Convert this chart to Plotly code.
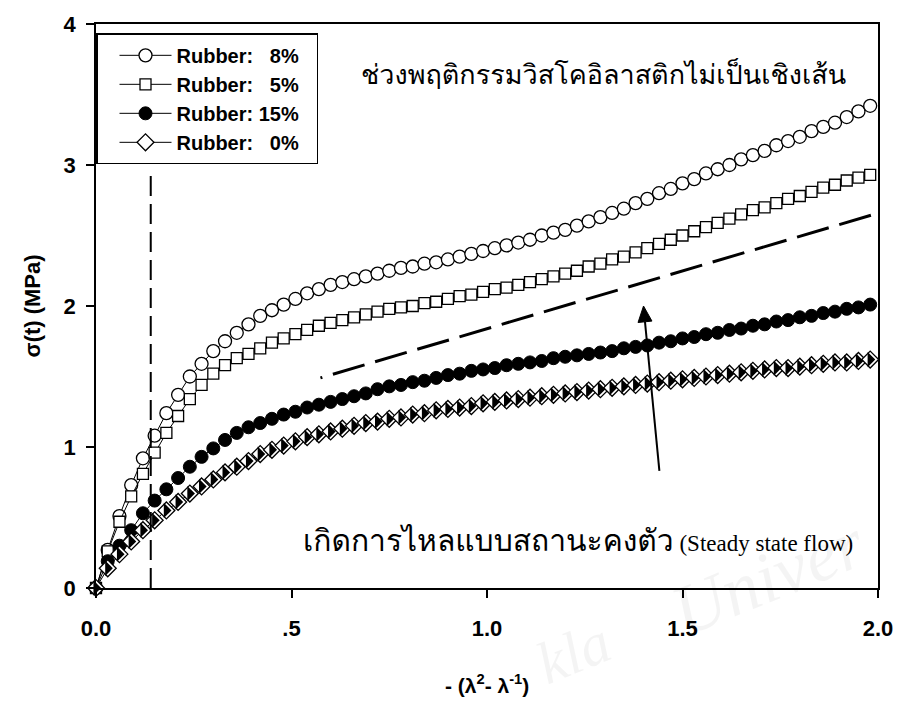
import plotly.graph_objects as go

# ---- data ----
strain = [0.00, 0.03, 0.06, 0.09, 0.12, 0.15, 0.18, 0.21, 0.24, 0.27, 0.30, 0.33, 0.36, 0.39,
          0.42, 0.45, 0.48, 0.51, 0.54, 0.57, 0.60, 0.63, 0.66, 0.69, 0.72, 0.75, 0.78, 0.81,
          0.84, 0.87, 0.90, 0.93, 0.96, 0.99, 1.02, 1.05, 1.08, 1.11, 1.14, 1.17, 1.20, 1.23,
          1.26, 1.29, 1.32, 1.35, 1.38, 1.41, 1.44, 1.47, 1.50, 1.53, 1.56, 1.59, 1.62, 1.65,
          1.68, 1.71, 1.74, 1.77, 1.80, 1.83, 1.86, 1.89, 1.92, 1.95, 1.98]

rubber_8 = [0, 0.27, 0.51, 0.73, 0.92, 1.08, 1.24, 1.37, 1.50, 1.59, 1.68, 1.75, 1.81, 1.87,
            1.93, 1.97, 2.01, 2.05, 2.09, 2.12, 2.15, 2.17, 2.19, 2.21, 2.23, 2.25, 2.27, 2.28,
            2.30, 2.31, 2.33, 2.35, 2.37, 2.39, 2.41, 2.43, 2.45, 2.47, 2.50, 2.52, 2.54, 2.57,
            2.60, 2.63, 2.66, 2.69, 2.73, 2.76, 2.80, 2.83, 2.87, 2.90, 2.94, 2.97, 3.00, 3.04,
            3.07, 3.10, 3.14, 3.17, 3.20, 3.24, 3.27, 3.30, 3.34, 3.38, 3.42]

rubber_5 = [0, 0.26, 0.47, 0.65, 0.81, 0.96, 1.10, 1.22, 1.34, 1.44, 1.52, 1.58, 1.63, 1.66,
            1.70, 1.74, 1.77, 1.80, 1.83, 1.86, 1.88, 1.90, 1.92, 1.94, 1.96, 1.98, 1.99, 2.00,
            2.02, 2.03, 2.05, 2.07, 2.08, 2.10, 2.12, 2.13, 2.15, 2.17, 2.19, 2.21, 2.23, 2.25,
            2.28, 2.30, 2.33, 2.35, 2.38, 2.41, 2.44, 2.47, 2.50, 2.53, 2.56, 2.59, 2.62, 2.65,
            2.68, 2.70, 2.73, 2.76, 2.78, 2.81, 2.84, 2.86, 2.89, 2.91, 2.93]

rubber_15 = [0, 0.19, 0.30, 0.41, 0.53, 0.62, 0.70, 0.78, 0.86, 0.93, 0.99, 1.05, 1.10, 1.14,
             1.17, 1.20, 1.23, 1.25, 1.28, 1.30, 1.32, 1.34, 1.36, 1.38, 1.41, 1.43, 1.44, 1.46,
             1.47, 1.49, 1.51, 1.52, 1.54, 1.55, 1.56, 1.58, 1.59, 1.60, 1.61, 1.63, 1.64, 1.65,
             1.66, 1.67, 1.68, 1.70, 1.71, 1.72, 1.74, 1.75, 1.77, 1.78, 1.80, 1.81, 1.83, 1.84,
             1.86, 1.87, 1.89, 1.90, 1.92, 1.93, 1.95, 1.96, 1.98, 1.99, 2.01]

rubber_0 = [0, 0.14, 0.24, 0.33, 0.41, 0.48, 0.55, 0.61, 0.67, 0.72, 0.77, 0.82, 0.86, 0.90,
            0.95, 0.98, 1.01, 1.04, 1.07, 1.09, 1.11, 1.13, 1.15, 1.17, 1.18, 1.20, 1.21, 1.23,
            1.24, 1.26, 1.27, 1.28, 1.29, 1.31, 1.32, 1.33, 1.34, 1.35, 1.36, 1.37, 1.38, 1.39,
            1.40, 1.41, 1.42, 1.43, 1.44, 1.45, 1.46, 1.47, 1.48, 1.49, 1.50, 1.51, 1.52, 1.53,
            1.54, 1.55, 1.56, 1.56, 1.57, 1.58, 1.59, 1.60, 1.60, 1.61, 1.62]

x_tick_vals = [0, 0.5, 1.0, 1.5, 2.0]
x_tick_text = ["0.0", ".5", "1.0", "1.5", "2.0"]
y_tick_vals = [0, 1, 2, 3, 4]
y_tick_text = ["0", "1", "2", "3", "4"]

pad = "<span style='color:rgba(0,0,0,0)'>_</span>"
labels = ["Rubber: \u20078%" + pad, "Rubber: \u20075%" + pad,
          "Rubber: 15%" + pad, "Rubber: \u20070%" + pad]

SANS = "Arial, Liberation Sans, sans-serif"
THAI = "Norasi, Kinnari, Garuda, Loma"
SERIF = "Times New Roman, Liberation Serif, serif"

fig = go.Figure()

common = dict(mode="lines+markers", line=dict(color="black", width=1), cliponaxis=False)

fig.add_trace(go.Scatter(x=strain, y=rubber_8, name=labels[0], legendgroup="a",
                         marker=dict(symbol="circle", size=13, color="white",
                                     line=dict(color="black", width=1.3)), **common))
fig.add_trace(go.Scatter(x=strain, y=rubber_5, name=labels[1], legendgroup="b",
                         marker=dict(symbol="square", size=11, color="white",
                                     line=dict(color="black", width=1.3)), **common))
fig.add_trace(go.Scatter(x=strain, y=rubber_15, name=labels[2], legendgroup="c",
                         marker=dict(symbol="circle", size=13, color="black",
                                     line=dict(color="black", width=1)), **common))
fig.add_trace(go.Scatter(x=strain, y=rubber_0, name=labels[3], legendgroup="d",
                         marker=dict(symbol="diamond", size=13, color="white",
                                     line=dict(color="black", width=1.3)), **common))
# right black half of the half-filled diamond
fig.add_trace(go.Scatter(x=strain, y=rubber_0, mode="markers", legendgroup="d", showlegend=False,
                         cliponaxis=False, hoverinfo="skip",
                         marker=dict(symbol="triangle-ne", angle=45, size=12, color="black",
                                     line=dict(width=0))))

# ---- reference lines / arrow ----
shapes = [
    dict(type="line", xref="x", yref="y", x0=0.14, x1=0.14, y0=0, y1=2.93,
         line=dict(color="black", width=2, dash="20px,8px")),
    dict(type="line", xref="x", yref="y", x0=0.574, y0=1.49, x1=1.99, y1=2.65,
         line=dict(color="black", width=3, dash="2px,11px" + ",33px,11px" * 20)),
    dict(type="line", xref="x", yref="y", x0=1.4409, y0=0.831, x1=1.404, y1=1.89,
         line=dict(color="black", width=2)),
    dict(type="path", xref="x", yref="y",
         path="M 1.4003,2.0 L 1.3863,1.883 L 1.4219,1.893 Z",
         fillcolor="black", line=dict(color="black", width=1)),
]

annotations = [
    dict(text="ช่วงพฤติกรรมวิสโคอิลาสติกไม่เป็นเชิงเส้น", xref="paper", yref="paper",
         x=0.649, y=0.91, xanchor="center", yanchor="middle", showarrow=False,
         font=dict(family=THAI + ", " + SERIF, size=27, color="black")),
    dict(text="<span style='font-family:Norasi, Kinnari, Garuda, Loma; font-size:30px'>"
              "เกิดการไหลแบบสถานะคงตัว</span> (Steady state flow)",
         xref="paper", yref="paper", x=0.617, y=0.0845, xanchor="center", yanchor="middle",
         showarrow=False, font=dict(family=SERIF, size=23, color="black")),
    dict(text="σ(t) (MPa)", xref="paper", yref="paper", x=-0.0813, y=0.5, textangle=-90,
         xanchor="center", yanchor="middle", showarrow=False,
         font=dict(family=SANS, size=22, color="black", weight="bold")),
    dict(text="- (λ<sup>2</sup>- λ<sup>-1</sup>)", xref="paper", yref="paper", x=0.5, y=-0.171,
         xanchor="center", yanchor="middle", showarrow=False,
         font=dict(family=SANS, size=21, color="black", weight="bold")),
    # faint watermark
    dict(text="Univer", xref="paper", yref="paper", x=0.86, y=0.02, textangle=-22,
         xanchor="center", yanchor="middle", showarrow=False,
         font=dict(family=SERIF, size=72, color="rgba(0,0,0,0.045)", style="italic")),
    dict(text="kla", xref="paper", yref="paper", x=0.61, y=-0.115, textangle=-22,
         xanchor="center", yanchor="middle", showarrow=False,
         font=dict(family=SERIF, size=60, color="rgba(0,0,0,0.045)", style="italic")),
]

axis_common = dict(showline=True, linecolor="black", linewidth=1.5, mirror=True,
                   ticks="outside", ticklen=8, tickwidth=1.5, tickcolor="black",
                   showgrid=False, zeroline=False,
                   tickfont=dict(family=SANS, size=22, color="black", weight="bold"))

fig.update_layout(
    width=905, height=702,
    margin=dict(l=96, r=22, t=20, b=114),
    paper_bgcolor="white", plot_bgcolor="white",
    xaxis=dict(range=[0, 2.0], tickmode="array", tickvals=x_tick_vals, ticktext=x_tick_text,
               ticklabelstandoff=12, **axis_common),
    yaxis=dict(range=[0, 4], tickmode="array", tickvals=y_tick_vals, ticktext=y_tick_text,
               ticklabelstandoff=6, **axis_common),
    showlegend=True,
    legend=dict(x=0, y=0.984, xanchor="left", yanchor="top", bgcolor="white",
                bordercolor="black", borderwidth=1.5, itemwidth=52, tracegroupgap=0,
                indentation=17,
                title=dict(text=" ", font=dict(size=1)),
                font=dict(family=SANS, size=20, color="black", weight="bold"),
                itemclick=False, itemdoubleclick=False),
    shapes=shapes,
    annotations=annotations,
)

fig.write_html("out.html")
